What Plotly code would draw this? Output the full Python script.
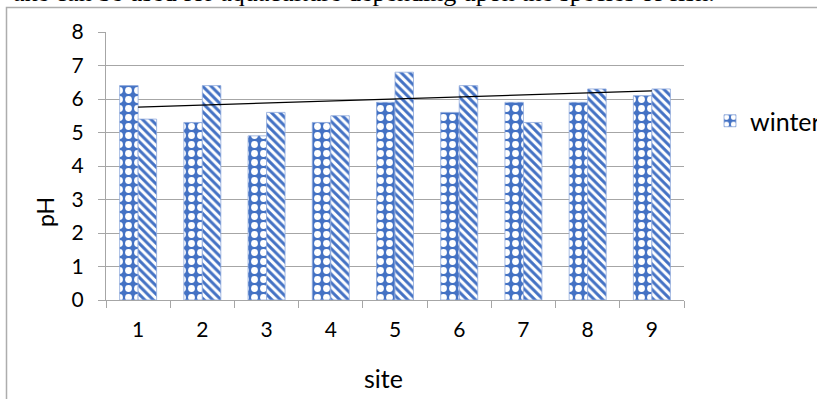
import numpy as np
import plotly.graph_objects as go

# pH readings per sampling site
sites = ["1", "2", "3", "4", "5", "6", "7", "8", "9"]
winter_ph = [6.4, 5.3, 4.9, 5.3, 5.9, 5.6, 5.9, 5.9, 6.1]
summer_ph = [5.4, 6.4, 5.6, 5.5, 6.8, 6.4, 5.3, 6.3, 6.3]
y_ticks = [0, 1, 2, 3, 4, 5, 6, 7, 8]

# linear trend fitted to the summer series
site_idx = np.arange(1, len(sites) + 1)
slope, intercept = np.polyfit(site_idx, summer_ph, 1)
trend = slope * site_idx + intercept

BLUE = "#4472C4"
GRID = "#A6A6A6"
FONT = "Lato"

W, H = 817, 399
L, R, T, B = 106, 133, 32, 99
pw, ph = W - L - R, H - T - B


def px_x(x):
    return (x - L) / pw


def px_y(y):
    return (H - B - y) / ph


fig = go.Figure()

fig.add_trace(go.Bar(
    x=sites, y=winter_ph, name="winter",
    marker=dict(
        color=BLUE,
        line=dict(color="#8FAADC", width=0.8),
        pattern=dict(shape=".", fgcolor="white", bgcolor=BLUE,
                     size=9, solidity=0.45, fillmode="replace"),
    ),
))
fig.add_trace(go.Bar(
    x=sites, y=summer_ph, name="summer", showlegend=False,
    marker=dict(
        color=BLUE,
        line=dict(color="#8FAADC", width=0.8),
        pattern=dict(shape="\\", fgcolor=BLUE, bgcolor="white",
                     size=6, solidity=0.5, fillmode="replace"),
    ),
))
fig.add_trace(go.Scatter(
    x=sites, y=trend, mode="lines", name="Linear (summer)",
    showlegend=False, line=dict(color="black", width=1.3),
))

# outer frame of the chart box
fig.add_shape(type="rect", xref="paper", yref="paper",
              x0=px_x(6.5), x1=px_x(830), y0=px_y(410), y1=px_y(7.5),
              line=dict(color="#ADADAD", width=1.5), fillcolor="rgba(0,0,0,0)",
              layer="below")

# running sentence from the page above the chart
fig.add_annotation(
    text="ake can be used for aquaculture depending upon the species of fish.",
    xref="paper", yref="paper", x=px_x(717), y=px_y(9),
    xanchor="right", yanchor="bottom", showarrow=False,
    font=dict(family="Liberation Serif", size=26, color="black"),
)

# axis titles
fig.add_annotation(
    text="site", xref="paper", yref="paper", x=px_x(383), y=px_y(378),
    xanchor="center", yanchor="middle", showarrow=False,
    font=dict(family=FONT, size=25, color="black"),
)
fig.add_annotation(
    text="pH", xref="paper", yref="paper", x=px_x(45), y=px_y(212),
    xanchor="center", yanchor="middle", showarrow=False, textangle=-90,
    font=dict(family=FONT, size=23, color="black"),
)

fig.update_layout(
    width=W, height=H,
    margin=dict(l=L, r=R, t=T, b=B, autoexpand=False),
    paper_bgcolor="white", plot_bgcolor="white",
    barmode="group", bargap=0.424, bargroupgap=0,
    font=dict(family=FONT, size=21, color="black"),
    legend=dict(x=px_x(710), y=px_y(121), xanchor="left", yanchor="middle",
                font=dict(family=FONT, size=25), bgcolor="rgba(0,0,0,0)"),
    xaxis=dict(
        type="category", showgrid=False, showline=True, linecolor=GRID,
        linewidth=1, ticks="outside", tickson="boundaries", ticklen=7,
        tickcolor=GRID, ticklabelstandoff=11,
    ),
    yaxis=dict(
        range=[0, 8], tickvals=y_ticks, showgrid=True, gridcolor=GRID,
        gridwidth=1, showline=True, linecolor=GRID, linewidth=1,
        ticks="outside", ticklen=7, tickcolor=GRID, zeroline=False,
        ticklabelstandoff=10,
    ),
)

fig.write_html("out.html")
